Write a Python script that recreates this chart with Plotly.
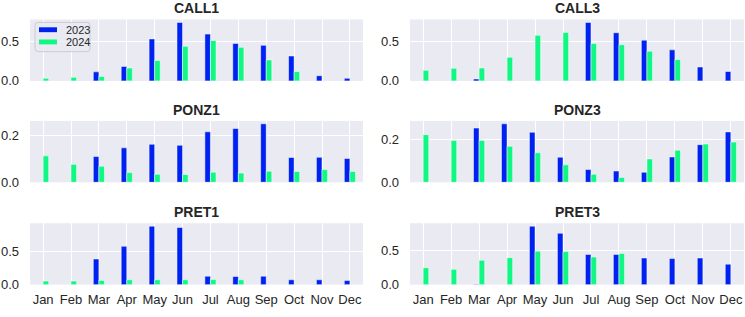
import plotly.graph_objects as go

months = ["Jan", "Feb", "Mar", "Apr", "May", "Jun", "Jul", "Aug", "Sep", "Oct", "Nov", "Dec"]
panel_names = ["CALL1", "CALL3", "PONZ1", "PONZ3", "PRET1", "PRET3"]
legend_labels = ["2023", "2024"]

call1_2023 = [None, None, 0.115, 0.184, 0.533, 0.742, 0.594, 0.475, 0.451, 0.316, 0.066, 0.033]
call1_2024 = [0.033, 0.045, 0.057, 0.164, 0.258, 0.439, 0.512, 0.426, 0.266, 0.119, None, None]

call3_2023 = [None, None, 0.025, None, None, None, 0.748, 0.616, 0.521, 0.397, 0.178, 0.120]
call3_2024 = [0.136, 0.161, 0.165, 0.302, 0.583, 0.620, 0.479, 0.463, 0.380, 0.273, None, None]

ponz1_2023 = [None, None, 0.109, 0.146, 0.161, 0.157, 0.214, 0.228, 0.248, 0.105, 0.106, 0.101]
ponz1_2024 = [0.112, 0.076, 0.068, 0.041, 0.034, 0.033, 0.043, 0.039, 0.047, 0.046, 0.054, 0.046]

ponz3_2023 = [None, None, 0.255, 0.275, 0.235, 0.118, 0.060, 0.053, 0.047, 0.119, 0.177, 0.237]
ponz3_2024 = [0.224, 0.197, 0.197, 0.169, 0.139, 0.082, 0.038, 0.023, 0.110, 0.151, 0.180, 0.189]

pret1_2023 = [None, None, 0.391, 0.584, 0.891, 0.871, 0.129, 0.124, 0.129, 0.074, 0.074, 0.064]
pret1_2024 = [0.054, 0.054, 0.064, 0.074, 0.074, 0.074, 0.079, 0.074, None, None, None, None]

pret3_2023 = [None, None, 0.005, None, 0.865, 0.760, 0.447, 0.447, 0.394, 0.385, 0.394, 0.303]
pret3_2024 = [0.250, 0.226, 0.360, 0.399, 0.495, 0.490, 0.409, 0.462, None, None, None, None]

series_2023 = [call1_2023, call3_2023, ponz1_2023, ponz3_2023, pret1_2023, pret3_2023]
series_2024 = [call1_2024, call3_2024, ponz1_2024, ponz3_2024, pret1_2024, pret3_2024]
tick_steps = [0.5, 0.5, 0.2, 0.2, 0.5, 0.5]

BLUE = "#0022F0"
GREEN = "#10F883"
BG = "#EAEAF2"
TXT = "#262626"
FONT = "Liberation Sans, Arial, sans-serif"

W, H = 745, 317
x_domains = [[30 / W, 363 / W], [410 / W, 744 / W]]
rows_px = [(20, 83), (124, 187), (229, 292)]
y_domains = [[1 - b / H, 1 - t / H] for t, b in rows_px]


def px(x):
    return x / W


def py(y):
    return 1 - y / H


fig = go.Figure()
xpos = list(range(len(months)))

annotations = []
for i, name in enumerate(panel_names):
    r, c = divmod(i, 2)
    k = "" if i == 0 else str(i + 1)
    xa, ya = "x" + k, "y" + k
    fig.add_trace(go.Bar(x=xpos, y=series_2023[i], marker=dict(color=BLUE, line=dict(color="white", width=0.5)),
                         xaxis=xa, yaxis=ya, showlegend=False, name=legend_labels[0]))
    fig.add_trace(go.Bar(x=xpos, y=series_2024[i], marker=dict(color=GREEN, line=dict(color="white", width=0.5)),
                         xaxis=xa, yaxis=ya, showlegend=False, name=legend_labels[1]))
    vals = [v for v in series_2023[i] + series_2024[i] if v is not None]
    ymax = max(vals) * 1.05
    fig.layout["xaxis" + k] = dict(
        domain=x_domains[c], anchor=ya, range=[-0.47, 11.47],
        tickmode="array", tickvals=xpos, ticktext=months,
        showticklabels=(r == 2), showgrid=True, gridcolor="white", gridwidth=1,
        zeroline=False, showline=False, ticks="",
        tickfont=dict(size=13, color=TXT, family=FONT), ticklabelstandoff=5,
    )
    fig.layout["yaxis" + k] = dict(
        domain=y_domains[r], anchor=xa, range=[0, ymax], dtick=tick_steps[i],
        tickformat=".1f", showgrid=True, gridcolor="white", gridwidth=1,
        zeroline=False, showline=False, ticks="",
        tickfont=dict(size=13, color=TXT, family=FONT), ticklabelstandoff=10,
    )
    annotations.append(dict(
        text="<b>%s</b>" % name, x=sum(x_domains[c]) / 2, y=y_domains[r][1],
        xref="paper", yref="paper", xanchor="center", yanchor="bottom", yshift=1,
        showarrow=False, font=dict(size=14, color=TXT, family=FONT),
    ))

# legend box (drawn manually to match the compact matplotlib legend)
lx0, lx1, ly0, ly1, rad = 35, 90, 23, 53, 3
path = (
    f"M {px(lx0 + rad)} {py(ly0)} L {px(lx1 - rad)} {py(ly0)} "
    f"Q {px(lx1)} {py(ly0)} {px(lx1)} {py(ly0 + rad)} L {px(lx1)} {py(ly1 - rad)} "
    f"Q {px(lx1)} {py(ly1)} {px(lx1 - rad)} {py(ly1)} L {px(lx0 + rad)} {py(ly1)} "
    f"Q {px(lx0)} {py(ly1)} {px(lx0)} {py(ly1 - rad)} L {px(lx0)} {py(ly0 + rad)} "
    f"Q {px(lx0)} {py(ly0)} {px(lx0 + rad)} {py(ly0)} Z"
)
shapes = [dict(type="path", path=path, xref="paper", yref="paper", layer="above",
               fillcolor="rgba(234,234,242,0.8)", line=dict(color="#CCCCCC", width=1))]
for j, (col, lab) in enumerate(zip([BLUE, GREEN], legend_labels)):
    yc = 30.5 + j * 12.5
    shapes.append(dict(type="rect", xref="paper", yref="paper", layer="above",
                       x0=px(39), x1=px(57), y0=py(yc - 2.5), y1=py(yc + 2.5),
                       fillcolor=col, line=dict(width=0)))
    annotations.append(dict(text=lab, x=px(64), y=py(yc), xref="paper", yref="paper",
                            xanchor="left", yanchor="middle", showarrow=False,
                            font=dict(size=11, color=TXT, family=FONT)))

fig.update_layout(
    width=W, height=H, margin=dict(l=0, r=0, t=0, b=0),
    paper_bgcolor="white", plot_bgcolor=BG,
    barmode="group", bargap=0.6, bargroupgap=0,
    annotations=annotations, shapes=shapes, showlegend=False,
    font=dict(family=FONT, color=TXT),
)

fig.write_html("out.html")
